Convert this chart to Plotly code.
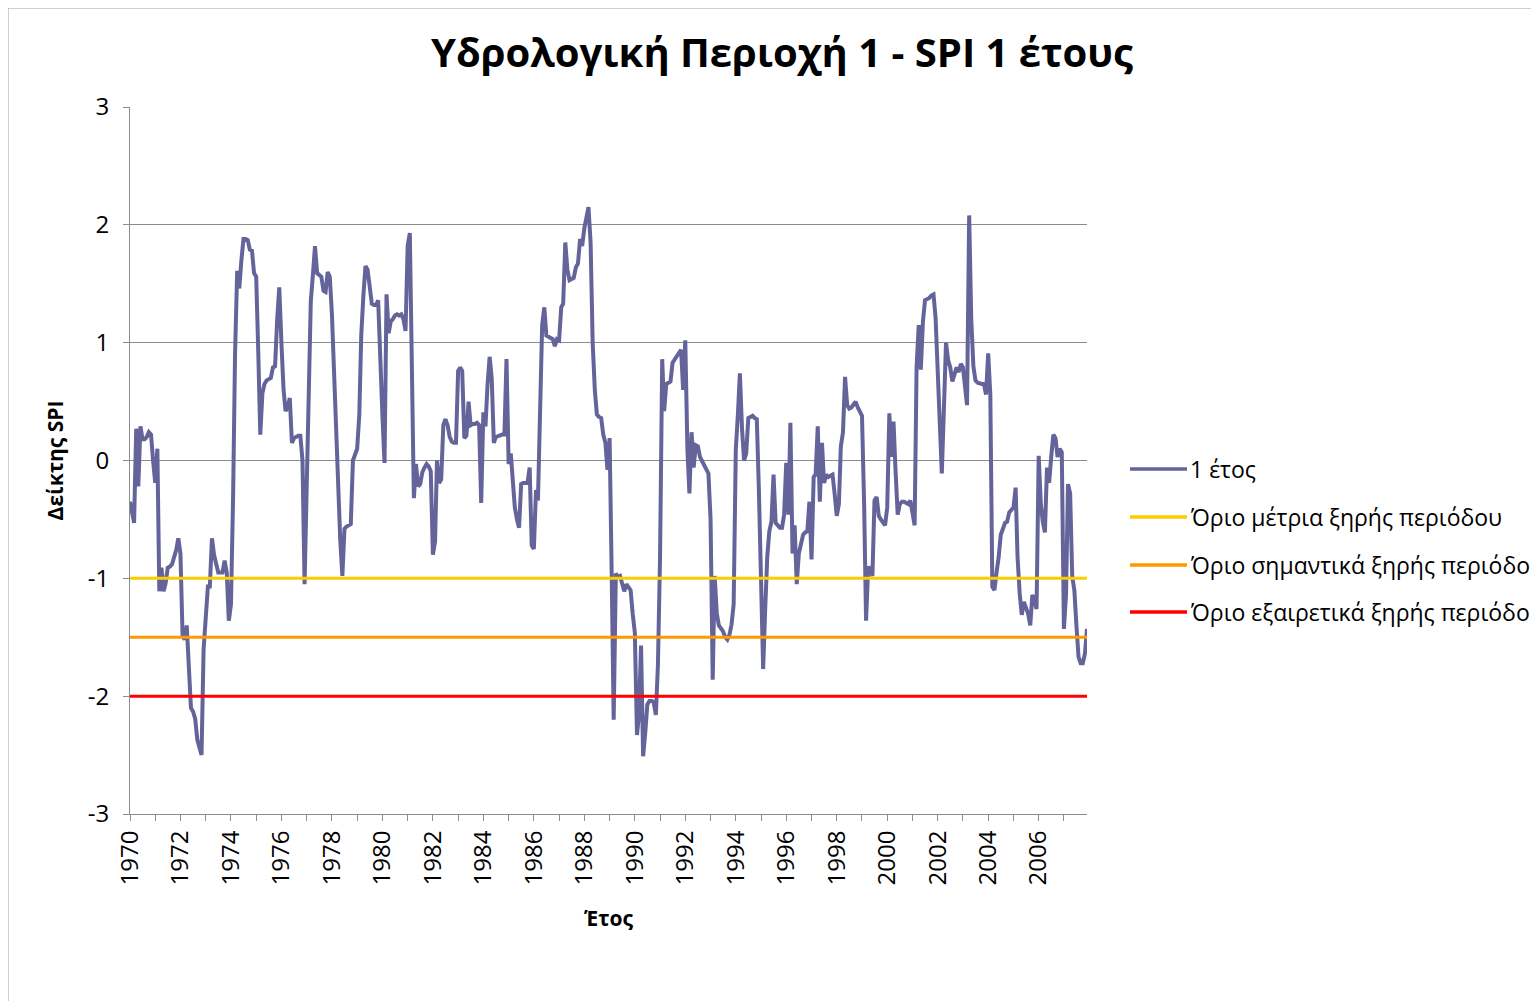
import plotly.graph_objects as go
import pandas as pd

# ---------------- data ----------------
start_month = "1970-01-01"
series_name = "1 έτος"

spi_1970_1974 = [-0.35, -0.45, -0.53, 0.27, -0.22, 0.29, 0.18, 0.18, 0.2, 0.24,
                 0.22, 0.0, -0.19, 0.1, -1.11, -0.91, -1.11, -1.04, -0.91, -0.9,
                 -0.88, -0.82, -0.76, -0.66, -0.79, -1.49, -1.52, -1.4, -1.8, -2.1,
                 -2.13, -2.19, -2.37, -2.45, -2.5, -1.6, -1.3, -1.07, -1.07, -0.66,
                 -0.8, -0.9, -0.95, -0.95, -0.95, -0.85, -0.95, -1.36, -1.22, -0.3,
                 0.9, 1.61, 1.46, 1.7, 1.88, 1.88, 1.87, 1.79]
spi_1974_1979 = [1.78, 1.59, 1.56, 0.9, 0.22, 0.57, 0.65, 0.68, 0.69, 0.7,
                 0.79, 0.8, 1.2, 1.47, 1.0, 0.6, 0.42, 0.45, 0.53, 0.15,
                 0.19, 0.2, 0.21, 0.21, 0.0, -1.05, -0.2, 0.95, 1.35, 1.58,
                 1.82, 1.59, 1.57, 1.56, 1.44, 1.43, 1.6, 1.56, 1.24, 0.7,
                 0.24, -0.4, -0.67, -0.98, -0.58, -0.56, -0.55, -0.54, 0.0, 0.06,
                 0.1, 0.39, 1.06, 1.4, 1.65, 1.62]
spi_1979_1984 = [1.5, 1.33, 1.32, 1.32, 1.36, 0.8, 0.39, -0.02, 1.41, 1.08,
                 1.18, 1.2, 1.23, 1.24, 1.23, 1.24, 1.2, 1.1, 1.82, 1.93,
                 0.85, -0.32, -0.03, -0.22, -0.2, -0.1, -0.06, -0.03, -0.05, -0.09,
                 -0.8, -0.69, 0.0, -0.19, -0.16, 0.3, 0.35, 0.3, 0.2, 0.16,
                 0.15, 0.15, 0.76, 0.79, 0.76, 0.19, 0.21, 0.5, 0.3, 0.31,
                 0.31, 0.32, 0.3, -0.36, 0.41, 0.29, 0.64, 0.88]
spi_1984_1989 = [0.7, 0.15, 0.2, 0.21, 0.22, 0.22, 0.22, 0.86, -0.03, 0.06,
                 -0.16, -0.4, -0.5, -0.57, -0.2, -0.19, -0.19, -0.19, -0.06, -0.72,
                 -0.75, -0.25, -0.34, 0.51, 1.15, 1.3, 1.06, 1.05, 1.04, 1.03,
                 0.97, 1.03, 1.02, 1.3, 1.33, 1.85, 1.62, 1.53, 1.54, 1.55,
                 1.64, 1.67, 1.88, 1.82, 1.97, 2.05, 2.15, 1.85, 1.0, 0.6,
                 0.39, 0.37, 0.36, 0.22, 0.15, -0.08, 0.19]
spi_1989_1993 = [-1.0, -2.2, -0.96, -0.99, -0.98, -1.05, -1.11, -1.05, -1.07, -1.1,
                 -1.3, -1.46, -2.33, -2.16, -1.57, -2.51, -2.31, -2.07, -2.04, -2.04,
                 -2.05, -2.16, -1.74, -0.82, 0.86, 0.42, 0.65, 0.66, 0.67, 0.83,
                 0.86, 0.88, 0.91, 0.94, 0.6, 1.02, 0.09, -0.28, 0.24, -0.06,
                 0.13, 0.12, 0.03, -0.01, -0.03, -0.07, -0.11, -0.5, -1.86, -0.98,
                 -1.3, -1.4, -1.42, -1.45, -1.5, -1.52, -1.48]
spi_1993_1998 = [-1.39, -1.22, 0.09, 0.4, 0.74, 0.27, 0.0, 0.06, 0.36, 0.37,
                 0.38, 0.36, 0.35, -0.25, -1.0, -1.77, -1.28, -0.82, -0.6, -0.52,
                 -0.12, -0.53, -0.55, -0.57, -0.57, -0.46, -0.02, -0.46, 0.32, -0.79,
                 -0.55, -1.05, -0.79, -0.7, -0.63, -0.61, -0.6, -0.35, -0.84, -0.14,
                 -0.12, 0.29, -0.35, 0.15, -0.19, -0.12, -0.14, -0.13, -0.12, -0.28,
                 -0.47, -0.37, 0.12, 0.24, 0.71, 0.47, 0.44]
spi_1998_2003 = [0.45, 0.48, 0.5, 0.45, 0.42, 0.38, -0.37, -1.36, -0.9, -0.93,
                 -0.98, -0.34, -0.31, -0.47, -0.5, -0.53, -0.55, -0.4, 0.4, 0.03,
                 0.33, -0.09, -0.46, -0.37, -0.35, -0.35, -0.36, -0.37, -0.34, -0.43,
                 -0.55, 0.79, 1.15, 0.77, 1.18, 1.36, 1.37, 1.38, 1.4, 1.41,
                 1.21, 0.75, 0.27, -0.11, 0.45, 1.0, 0.85, 0.79, 0.67, 0.75,
                 0.79, 0.75, 0.82, 0.79, 0.65, 0.47, 2.08]
spi_2003_2007 = [1.2, 0.8, 0.68, 0.66, 0.65, 0.65, 0.65, 0.56, 0.91, 0.56,
                 -1.07, -1.1, -0.95, -0.82, -0.63, -0.57, -0.53, -0.52, -0.44, -0.42,
                 -0.4, -0.23, -0.82, -1.13, -1.31, -1.2, -1.25, -1.3, -1.4, -1.14,
                 -1.19, -1.26, 0.04, -0.37, -0.52, -0.61, -0.06, -0.19, 0.03, 0.22,
                 0.19, 0.03, 0.1, 0.07, -1.43, -1.13, -0.2, -0.28, -0.98, -1.1,
                 -1.4, -1.67, -1.72, -1.72, -1.64, -1.43]

threshold_values = [-1.0, -1.5, -2.0]
threshold_names = ["Όριο μέτρια ξηρής περιόδου",
                   "Όριο σημαντικά ξηρής περιόδου",
                   "Όριο εξαιρετικά ξηρής περιόδου"]
y_tick_values = [-3, -2, -1, 0, 1, 2, 3]

title_text = "Υδρολογική Περιοχή 1 - SPI 1 έτους"
x_title = "Έτος"
y_title = "Δείκτης SPI"

# ---------------- styles ----------------
SERIES_COLOR = "#64649A"
THRESHOLD_COLORS = ["#FFCC00", "#FF9900", "#FF0000"]
GRID = "#8C8C8C"
FONT = "Open Sans"

spi = (spi_1970_1974 + spi_1974_1979 + spi_1979_1984 + spi_1984_1989 +
       spi_1989_1993 + spi_1993_1998 + spi_1998_2003 + spi_2003_2007)
dates = pd.date_range(start_month, periods=len(spi), freq="MS")

OFF = 8  # page body margin
W, H = 1539 - OFF, 1001 - OFF
L, R, T, B = 130 - OFF, 1087 - OFF, 107 - OFF, 814 - OFF


def px(xpix):
    return (xpix - OFF - L) / (R - L)


def py(ypix):
    return (B - (ypix - OFF)) / (B - T)


fig = go.Figure()
fig.add_trace(go.Scatter(x=dates, y=spi, mode="lines", name=series_name,
                         line=dict(color=SERIES_COLOR, width=4),
                         showlegend=False))
for v, nm, c in zip(threshold_values, threshold_names, THRESHOLD_COLORS):
    fig.add_trace(go.Scatter(x=[dates[0], dates[-1]], y=[v, v], mode="lines",
                             name=nm, line=dict(color=c, width=3),
                             showlegend=False))

# manual legend (Excel-style long line samples)
legend_names = [series_name] + threshold_names
legend_colors = [SERIES_COLOR] + THRESHOLD_COLORS
legend_y = [469, 517, 565, 612]
shapes = []
annotations = []
for nm, c, yy in zip(legend_names, legend_colors, legend_y):
    shapes.append(dict(type="line", xref="paper", yref="paper",
                       x0=px(1130), x1=px(1187), y0=py(yy), y1=py(yy),
                       line=dict(color=c, width=3.5)))
    annotations.append(dict(xref="paper", yref="paper", x=px(1188), y=py(yy),
                            xanchor="left", yanchor="middle", showarrow=False,
                            text=nm, font=dict(family=FONT, size=23, color="black")))

# outer chart border (partially visible)
shapes.append(dict(type="line", xref="paper", yref="paper",
                   x0=px(8), x1=px(8), y0=py(8), y1=py(1005),
                   line=dict(color="#A0A0A0", width=1)))
shapes.append(dict(type="line", xref="paper", yref="paper",
                   x0=px(8), x1=px(1545), y0=py(8), y1=py(8),
                   line=dict(color="#A0A0A0", width=1)))

fig.update_layout(
    width=W, height=H,
    margin=dict(l=L, r=W - R, t=T, b=H - B, autoexpand=False),
    paper_bgcolor="white", plot_bgcolor="white",
    font=dict(family=FONT, color="black"),
    title=dict(text="<b>" + title_text + "</b>", font=dict(family=FONT, size=40, color="black"),
               xref="container", x=(782 - OFF) / W, xanchor="center",
               yref="container", y=1 - (53 - OFF) / H, yanchor="middle"),
    shapes=shapes, annotations=annotations,
    showlegend=False,
)
fig.update_xaxes(
    type="date", range=[dates[0], dates[-1]], automargin=False,
    tick0=start_month, dtick="M24", tickformat="%Y", tickangle=-90,
    ticks="outside", ticklen=6, tickcolor=GRID, tickwidth=1,
    minor=dict(dtick="M12", ticks="outside", ticklen=6, tickcolor=GRID, showgrid=False),
    showline=True, linecolor=GRID, linewidth=1, showgrid=False, zeroline=False,
    tickfont=dict(family=FONT, size=24, color="black"),
    title=dict(text="<b>" + x_title + "</b>", font=dict(family=FONT, size=21, color="black"),
               standoff=26),
)
fig.update_yaxes(
    range=[-3, 3], automargin=False,
    tickvals=y_tick_values, ticktext=[str(v) for v in y_tick_values],
    ticks="outside", ticklen=6, tickcolor=GRID, ticklabelstandoff=9,
    showline=True, linecolor=GRID, linewidth=1,
    showgrid=True, gridcolor=GRID, gridwidth=1, zeroline=False,
    tickfont=dict(family=FONT, size=24, color="black"),
    title=dict(text="<b>" + y_title + "</b>", font=dict(family=FONT, size=21, color="black"),
               standoff=18),
)

fig.write_html("out.html")
